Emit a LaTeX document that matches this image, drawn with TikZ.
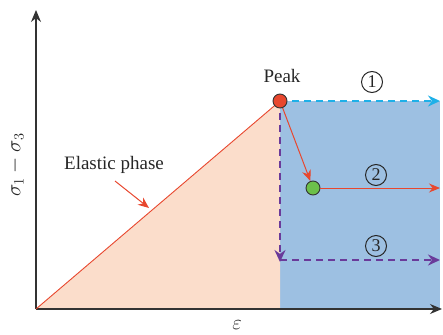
\documentclass[tikz,border=0pt]{standalone}
\usepackage{fontspec}
\setmainfont{Liberation Serif}
\usetikzlibrary{arrows.meta}
\definecolor{cblue}{HTML}{9DC0E2}
\definecolor{corange}{HTML}{FBDDCB}
\definecolor{cred}{HTML}{E8472E}
\definecolor{ccyan}{HTML}{1EB0E8}
\definecolor{cpurple}{HTML}{6A3A9A}
\definecolor{cgreen}{HTML}{6CC04A}
\definecolor{caxis}{HTML}{333333}
\tikzset{
  x=1pt,y=-1pt,
  lbl/.style={text=black!85,font=\fontsize{19}{21}\selectfont,inner sep=0pt},
  num/.style={circle,draw=black!85,line width=1pt,text=black!85,minimum size=21pt,inner sep=0pt,font=\fontsize{18}{18}\selectfont},
  dot/.style={circle,draw=black!80,line width=0.9pt,minimum size=14pt,inner sep=0pt},
  redarrow/.style={cred,line width=1pt,-{Stealth[length=11pt,width=9pt]}},
  dasharrow/.style={line width=2.3pt,dash pattern=on 7pt off 5pt,-{Stealth[length=12pt,width=11pt]}},
  axis/.style={caxis,line width=1.1pt,-{Stealth[length=12pt,width=10pt]}}
}
\begin{document}
\begin{tikzpicture}
\useasboundingbox (0,0) rectangle (443,334);
\coordinate (O) at (36,309);
\coordinate (P) at (280,101);
\coordinate (B) at (280,309);
\coordinate (yend) at (36,10);
\coordinate (xend) at (442,309);
\coordinate (e1) at (440,101);
\coordinate (e2) at (440,188);
\coordinate (v3) at (280,262);
\coordinate (h3) at (280,260);
\coordinate (e3) at (440,260);
\coordinate (ea) at (115,181);
\coordinate (eb) at (149,208);
% fills
\fill[cblue] (280,101) rectangle (440,309);
\fill[corange] (O) -- (P) -- (B) -- cycle;
% axes
\draw[axis] (O) -- (yend);
\draw[axis] (O) -- (xend);
% elastic line
\draw[cred,line width=0.9pt] (O) -- (P);
% paths
\draw[dasharrow,cpurple] (P) -- (v3);
\draw[dasharrow,cpurple] (h3) -- (e3);
\draw[dasharrow,ccyan] (P) -- (e1);
\node[dot,fill=cgreen] (G) at (313,188) {};
\draw[redarrow] (P) -- (G);
\draw[redarrow] (G) -- (e2);
\node[dot,fill=cred] (peak) at (P) {};
% labels
\node[lbl] (peaklbl) at (282,76) {Peak};
\node[num] (n1) at (372,82) {1};
\node[num] (n2) at (376,175) {2};
\node[num] (n3) at (376,246) {3};
\node[lbl] (elastic) at (114,165) {Elastic phase};
\draw[redarrow] (ea) -- (eb);
\node[lbl,rotate=90,font=\fontsize{21}{23}\selectfont] (ylbl) at (16,165) {$\sigma_1 - \sigma_3$};
\node[lbl,font=\fontsize{21}{23}\selectfont] (xlbl) at (237,325) {$\varepsilon$};
\end{tikzpicture}
\end{document}
